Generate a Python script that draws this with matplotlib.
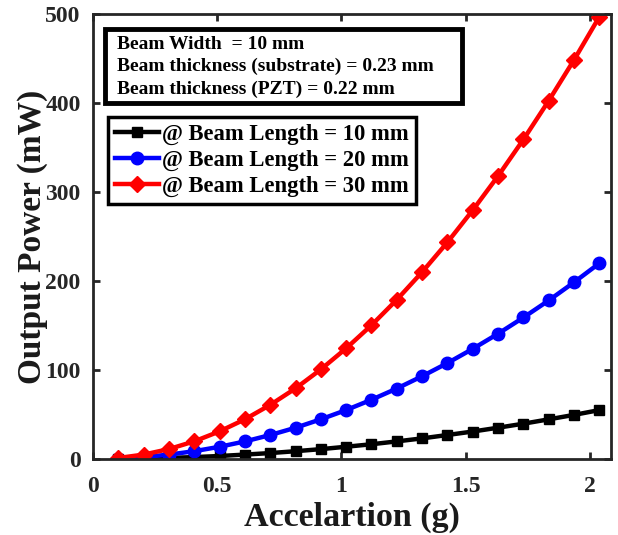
import matplotlib
matplotlib.use("Agg")
import matplotlib.pyplot as plt
from matplotlib.patches import Rectangle

plt.rcParams['font.family'] = ['Liberation Serif', 'DejaVu Serif']
plt.rcParams['font.weight'] = 'bold'

accel = [0.102, 0.204, 0.306, 0.408, 0.510, 0.612, 0.714, 0.816, 0.917, 1.019,
         1.121, 1.223, 1.325, 1.427, 1.529, 1.631, 1.733, 1.835, 1.937, 2.039]
p10 = [0.14, 0.55, 1.2, 2.2, 3.4, 5.0, 6.7, 8.8, 11.1, 13.8,
       16.6, 19.8, 23.2, 27.0, 30.9, 35.2, 39.7, 44.6, 49.6, 55.0]
p20 = [0.55, 2.2, 5.0, 8.8, 13.8, 19.8, 27.0, 35.2, 44.6, 55.0,
       66.6, 79.2, 93.0, 107.8, 123.8, 140.8, 159.0, 178.2, 198.6, 220.0]
p30 = [1.2, 5.0, 11.2, 19.9, 31.1, 44.7, 60.9, 79.5, 100.6, 124.3,
       150.3, 178.9, 210.0, 243.5, 279.6, 318.0, 359.0, 402.6, 448.5, 497.0]
labels = ['@ Beam Length = 10 mm', '@ Beam Length = 20 mm', '@ Beam Length = 30 mm']
info = "Beam Width  = 10 mm\nBeam thickness (substrate) = 0.23 mm\nBeam thickness (PZT) = 0.22 mm"

fig = plt.figure(figsize=(6.18, 5.35), dpi=100)
ax = fig.add_axes([0.1505, 0.142, 0.838, 0.832])

ax.plot(accel, p10, color='black', lw=3.2, marker='s', ms=6.5, label=labels[0])
ax.plot(accel, p20, color='blue', lw=3.2, marker='o', ms=9, label=labels[1])
ax.plot(accel, p30, color='red', lw=3.2, marker='D', ms=8.5, label=labels[2])

ax.set_xlim(0, 2.085)
ax.set_ylim(0, 500)
ax.set_xticks([0, 0.5, 1, 1.5, 2])
ax.set_xticklabels(['0', '0.5', '1', '1.5', '2'])
ax.set_yticks([0, 100, 200, 300, 400, 500])
ax.tick_params(direction='in', top=True, right=True, length=5, width=2,
               labelsize=17, colors='#262626')
ax.tick_params(axis='x', pad=12)
ax.tick_params(axis='y', pad=9)
for lab in ax.get_xticklabels() + ax.get_yticklabels():
    lab.set_fontweight('bold')
for s in ax.spines.values():
    s.set_linewidth(2)
    s.set_color('#262626')

ax.set_xlabel('Accelartion (g)', fontsize=24.5, fontweight='bold', color='#1a1a1a', labelpad=4)
ax.set_ylabel('Output Power (mW)', fontsize=24, fontweight='bold', color='#1a1a1a', labelpad=-2)

ax.add_patch(Rectangle((0.023, 0.80), 0.689, 0.166, transform=ax.transAxes,
                       fc='white', ec='black', lw=3.5, zorder=5))
ax.text(0.046, 0.881, info, transform=ax.transAxes, fontsize=14, fontweight='bold',
        va='center', ha='left', linespacing=1.37, zorder=6)

leg = ax.legend(loc='upper left', bbox_to_anchor=(0.029, 0.769),
                prop={'weight': 'bold', 'size': 16.3}, handlelength=1.95,
                handletextpad=0.15, borderpad=0.3, labelspacing=0.22,
                fancybox=False, framealpha=1, borderaxespad=0)
leg.get_frame().set_edgecolor('black')
leg.get_frame().set_linewidth(2.5)

fig.savefig('out.png', dpi=100)
